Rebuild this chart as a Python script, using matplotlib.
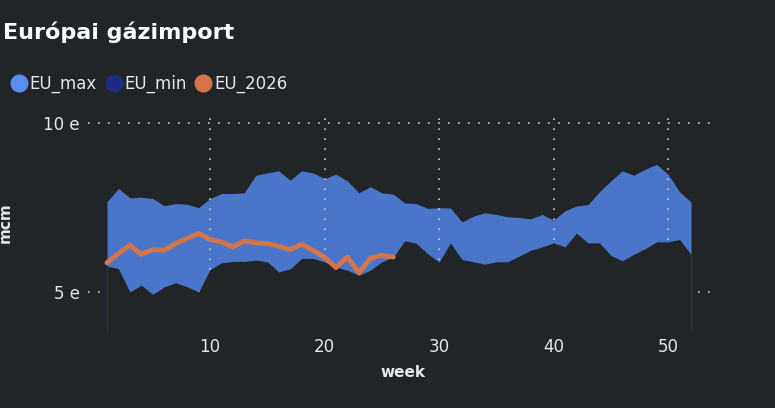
import numpy as np
import matplotlib.pyplot as plt
from matplotlib.lines import Line2D

# weekly values (thousand mcm)
weeks = np.arange(1, 53)
eu_max = [7.67, 8.07, 7.79, 7.81, 7.77, 7.56, 7.62, 7.60, 7.50, 7.77,
          7.92, 7.92, 7.94, 8.46, 8.53, 8.59, 8.31, 8.59, 8.53, 8.36,
          8.49, 8.29, 7.94, 8.12, 7.94, 7.90, 7.64, 7.62, 7.48, 7.50,
          7.49, 7.08, 7.25, 7.35, 7.30, 7.23, 7.21, 7.17, 7.30, 7.13,
          7.41, 7.55, 7.59, 7.97, 8.29, 8.59, 8.46, 8.64, 8.78, 8.49,
          7.97, 7.67]
eu_min = [5.77, 5.70, 5.01, 5.21, 4.94, 5.16, 5.28, 5.16, 5.01, 5.67,
          5.87, 5.91, 5.91, 5.95, 5.90, 5.60, 5.69, 6.00, 6.00, 5.90,
          5.75, 5.65, 5.50, 5.65, 5.90, 6.04, 6.52, 6.45, 6.14, 5.89,
          6.46, 5.97, 5.90, 5.83, 5.90, 5.90, 6.07, 6.24, 6.34, 6.46,
          6.34, 6.75, 6.46, 6.46, 6.09, 5.93, 6.12, 6.29, 6.49, 6.49,
          6.56, 6.12]
weeks_2026 = np.arange(1, 27)
eu_2026 = [5.87, 6.14, 6.39, 6.12, 6.26, 6.24, 6.44, 6.59, 6.74, 6.56,
           6.49, 6.34, 6.52, 6.46, 6.44, 6.36, 6.26, 6.42, 6.24, 6.03,
           5.73, 6.04, 5.57, 6.00, 6.09, 6.04]

bg = '#222528'
c_max = '#4a76c9'
c_min = '#1f2a80'
c_26 = '#d3744a'
txt = '#e6e6e6'

fig = plt.figure(figsize=(7.75, 4.08), dpi=100, facecolor=bg)
ax = fig.add_axes([0.1135, 0.191, 0.813, 0.527], facecolor=bg)

ax.fill_between(weeks, 0, eu_max, color=c_max, lw=0, zorder=1)
ax.fill_between(weeks, 0, eu_min, color=bg, lw=0, zorder=2)
ax.plot([1, 1], [0, eu_min[0]], color=c_min, lw=0.8, zorder=2)
ax.plot(weeks_2026, eu_2026, color=c_26, lw=3.5, solid_joinstyle='round',
        solid_capstyle='round', zorder=4)

ax.set_xlim(-0.66, 54.36)
ax.set_ylim(3.88, 10.24)
ax.set_xticks([10, 20, 30, 40, 50])
ax.set_yticks([5, 10])
ax.set_yticklabels(['5 e', '10 e'])
ax.grid(True, color='#c8c8c8', linestyle=(0, (1, 5)), lw=1.2, zorder=0)
ax.tick_params(colors=txt, labelsize=12, length=0, pad=6)
for s in ax.spines.values():
    s.set_visible(False)
ax.set_xlabel('week', color=txt, fontsize=11, fontweight='bold', labelpad=6)
ax.set_ylabel('mcm', color=txt, fontsize=11, fontweight='bold')
ax.yaxis.set_label_coords(-0.12, 0.5)

fig.text(0.004, 0.92, 'Európai gázimport', color='white', fontsize=16,
         fontweight='bold', va='center')
handles = [Line2D([], [], marker='o', ls='', color=c, markersize=12)
           for c in ['#5b8def', c_min, c_26]]
leg = fig.legend(handles, ['EU_max', 'EU_min', 'EU_2026'], loc='center left',
                 bbox_to_anchor=(-0.008, 0.795), ncol=3, frameon=False,
                 fontsize=12, handletextpad=0.05, columnspacing=0.4,
                 handlelength=1.2)
for t in leg.get_texts():
    t.set_color(txt)

fig.savefig('out.png', facecolor=bg)
